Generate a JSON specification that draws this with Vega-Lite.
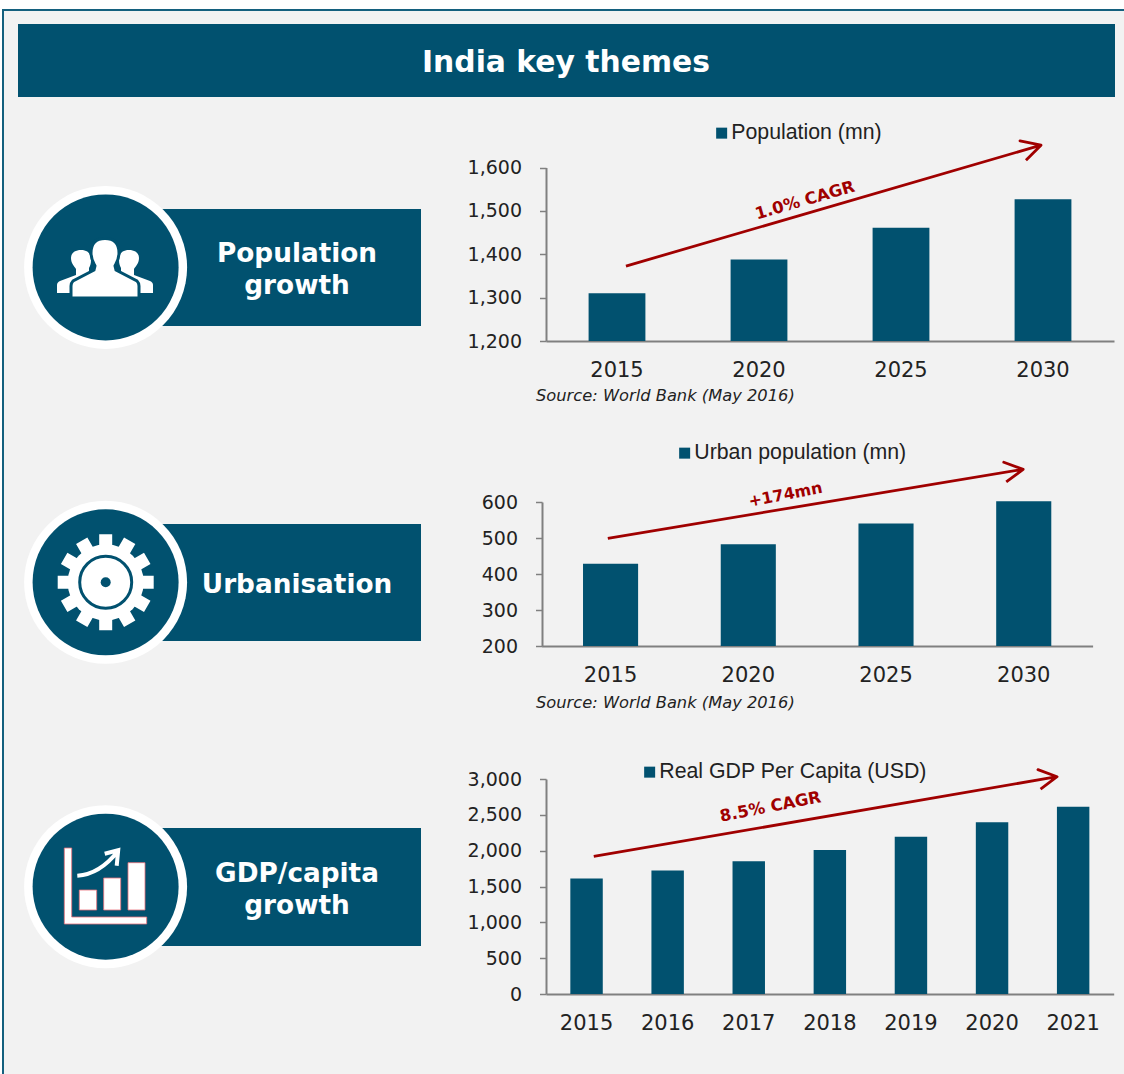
{
"$schema":"https://vega.github.io/schema/vega-lite/v6.json",
"padding":0,
"background":"#ffffff",
"bounds":"flush",
"spacing":0,
"resolve":{"scale":{"color":"independent"},"legend":{"color":"independent"}},
"config":{"view":{"stroke":null},"font":"DejaVu Sans",
 "axis":{"labelFont":"DejaVu Sans","labelColor":"#222222","domainColor":"#808080","domainWidth":2,"tickColor":"#808080","tickWidth":1.5,"grid":false,"title":null},
 "legend":{"orient":"none","title":null,"padding":0,"symbolType":"square","symbolSize":121,"symbolStrokeWidth":0,"labelFont":"Liberation Sans","labelFontSize":21.3,"labelColor":"#222222","labelOffset":-1,"labelLimit":400}},
"hconcat":[
{"width":541,"height":1074,
 "encoding":{
  "x":{"field":"x","type":"quantitative","axis":null,"scale":{"domain":[0,541],"range":[0,541],"nice":false,"zero":false}},
  "y":{"field":"y","type":"quantitative","axis":null,"scale":{"domain":[0,1074],"range":[0,1074],"nice":false,"zero":false}}
 },
 "layer":[
  {"data":{"values":[{"part":"panel","x":2,"x2":1124,"y":9,"y2":1074}]},"mark":{"type":"rect","fill":"#f2f2f2"},"encoding":{"x2":{"field":"x2"},"y2":{"field":"y2"}}},
  {"data":{"values":[{"part":"top edge","x":2,"x2":1124,"y":9,"y2":11},{"part":"left edge","x":2,"x2":4,"y":9,"y2":1074}]},"mark":{"type":"rect","fill":"#14607e"},"encoding":{"x2":{"field":"x2"},"y2":{"field":"y2"}}},
  {"data":{"values":[{"part":"header","x":18,"x2":1115,"y":24,"y2":97},{"part":"Population growth","x":150,"x2":421,"y":209,"y2":326},{"part":"Urbanisation","x":150,"x2":421,"y":524,"y2":641},{"part":"GDP/capita growth","x":150,"x2":421,"y":828,"y2":946}]},"mark":{"type":"rect","fill":"#01516f"},"encoding":{"x2":{"field":"x2"},"y2":{"field":"y2"}}},
  {"data":{"name":"discs","values":[{"theme":"Population growth","x":105.6,"y":267.4},{"theme":"Urbanisation","x":105.6,"y":582.3},{"theme":"GDP/capita growth","x":105.6,"y":886.7}]},"mark":{"type":"point","shape":"circle","filled":true,"fill":"#ffffff","stroke":null,"size":26569,"opacity":1}},
  {"data":{"name":"discs"},"mark":{"type":"point","shape":"circle","filled":true,"fill":"#01516f","stroke":null,"size":21316,"opacity":1}},
  {"data":{"values":[{"icon":"people","x":105,"y":268}]},"mark":{"type":"point","filled":true,"fill":"#ffffff","stroke":null,"opacity":1,"size":10000,"shape":"M -0.48 -0.36 C -0.34 -0.36 -0.28 -0.28 -0.28 -0.16 C -0.28 -0.08 -0.3 -0.04 -0.32 0 L -0.32 0.08 L -0.2 0.2 L -0.2 0.5 L -0.96 0.5 L -0.96 0.34 C -0.96 0.3 -0.94 0.28 -0.9 0.26 L -0.58 0.14 L -0.58 0.02 C -0.62 -0.04 -0.68 -0.1 -0.68 -0.2 C -0.68 -0.3 -0.6 -0.36 -0.48 -0.36 Z M 0.48 -0.36 C 0.34 -0.36 0.28 -0.28 0.28 -0.16 C 0.28 -0.08 0.3 -0.04 0.32 0 L 0.32 0.08 L 0.2 0.2 L 0.2 0.5 L 0.96 0.5 L 0.96 0.34 C 0.96 0.3 0.94 0.28 0.9 0.26 L 0.58 0.14 L 0.58 0.02 C 0.62 -0.04 0.68 -0.1 0.68 -0.2 C 0.68 -0.3 0.6 -0.36 0.48 -0.36 Z"}},
  {"data":{"values":[{"icon":"people centre","x":105,"y":268}]},"mark":{"type":"point","filled":true,"fill":"#ffffff","stroke":"#01516f","strokeWidth":3,"opacity":1,"size":10000,"shape":"M 0 -0.59 C 0.2 -0.59 0.28 -0.48 0.28 -0.3 C 0.28 -0.18 0.24 -0.12 0.2 -0.04 L 0.22 0.04 L 0.64 0.26 C 0.66 0.28 0.68 0.32 0.68 0.36 L 0.68 0.6 L -0.68 0.6 L -0.68 0.36 C -0.68 0.32 -0.66 0.28 -0.64 0.26 L -0.22 0.04 L -0.2 -0.04 C -0.24 -0.12 -0.28 -0.18 -0.28 -0.3 C -0.28 -0.48 -0.2 -0.59 0 -0.59 Z"}},
  {"data":{"values":[{"icon":"gear","x":105.7,"y":582.3}]},"mark":{"type":"point","filled":true,"fill":"#ffffff","stroke":null,"opacity":1,"size":10000,"shape":"M 0.96 0.13 L 0.96 -0.13 L -0.96 -0.13 L -0.96 0.13 Z M 0.766 0.593 L 0.896 0.367 L -0.766 -0.593 L -0.896 -0.367 Z M 0.367 0.896 L 0.593 0.766 L -0.367 -0.896 L -0.593 -0.766 Z M -0.13 0.96 L 0.13 0.96 L 0.13 -0.96 L -0.13 -0.96 Z M -0.593 0.766 L -0.367 0.896 L 0.593 -0.766 L 0.367 -0.896 Z M -0.896 0.367 L -0.766 0.593 L 0.896 -0.367 L 0.766 -0.593 Z"}},
  {"data":{"values":[{"icon":"gear body","x":105.7,"y":582.3}]},"mark":{"type":"point","shape":"circle","filled":true,"fill":"#ffffff","stroke":null,"opacity":1,"size":5776}},
  {"data":{"values":[{"icon":"gear ring","x":105.7,"y":582.3}]},"mark":{"type":"point","shape":"circle","filled":false,"stroke":"#01516f","strokeWidth":3,"opacity":1,"size":2704}},
  {"data":{"values":[{"icon":"gear hole","x":105.7,"y":582.3}]},"mark":{"type":"point","shape":"circle","filled":true,"fill":"#01516f","stroke":null,"opacity":1,"size":100}},
  {"data":{"values":[{"icon":"bars","x":105.7,"y":886.7}]},"mark":{"type":"point","filled":true,"fill":"#ffffff","stroke":"#e8707a","strokeWidth":0.8,"opacity":1,"size":10000,"shape":"M -0.828 -0.774 L -0.68 -0.774 L -0.68 0.606 L 0.82 0.606 L 0.82 0.746 L -0.828 0.746 Z M -0.528 0.066 L -0.18 0.066 L -0.18 0.466 L -0.528 0.466 Z M -0.04 -0.174 L 0.3 -0.174 L 0.3 0.466 L -0.04 0.466 Z M 0.446 -0.48 L 0.786 -0.48 L 0.786 0.466 L 0.446 0.466 Z"}},
  {"data":{"values":[{"icon":"bars arrow","x":105.7,"y":886.7}]},"mark":{"type":"point","filled":false,"stroke":"#ffffff","strokeWidth":4,"opacity":1,"size":10000,"shape":"M -0.568 -0.22 C -0.25 -0.24 0 -0.4 0.25 -0.72 M -0.02 -0.66 L 0.25 -0.73 L 0.22 -0.42"}},
  {"data":{"values":[{"label":"India key themes","x":566,"y":63}]},"mark":{"type":"text","font":"DejaVu Sans","fontWeight":"bold","fontSize":29.8,"fill":"#ffffff","align":"center","baseline":"middle"},"encoding":{"text":{"field":"label"}}},
  {"data":{"values":[{"label":"Population","x":297,"y":254},{"label":"growth","x":297,"y":286},{"label":"Urbanisation","x":297,"y":585},{"label":"GDP/capita","x":297,"y":874},{"label":"growth","x":297,"y":906}]},"mark":{"type":"text","font":"DejaVu Sans","fontWeight":"bold","fontSize":26.3,"fill":"#ffffff","align":"center","baseline":"middle"},"encoding":{"text":{"field":"label"}}},
  {"data":{"values":[{"label":"Source: World Bank (May 2016)","x":536,"y":395.5},{"label":"Source: World Bank (May 2016)","x":536,"y":702.5}]},"mark":{"type":"text","font":"DejaVu Sans","fontStyle":"italic","fontSize":16.3,"fill":"#222222","align":"left","baseline":"middle"},"encoding":{"text":{"field":"label"}}}
 ]},
{"vconcat":[
 {"width":583,"height":341,
  "layer":[
   {"data":{"values":[{"year":"2015","population":1310},{"year":"2020","population":1388},{"year":"2025","population":1461},{"year":"2030","population":1527}]},
    "mark":{"type":"bar"},
    "encoding":{
     "x":{"field":"year","type":"ordinal","axis":{"labelAngle":0,"ticks":false,"labelFontSize":21,"labelBaseline":"middle","labelPadding":29},"scale":{"range":[5,573],"paddingInner":0.6,"paddingOuter":0.3}},
     "y":{"field":"population","type":"quantitative","stack":null,"axis":{"values":[1200,1300,1400,1500,1600],"format":",.0f","offset":-5,"labelFontSize":19,"tickSize":6.5,"labelPadding":18},"scale":{"domain":[1200,1600],"range":[341,167.5],"nice":false,"zero":false}},
     "y2":{"datum":1200},
     "color":{"datum":"Population (mn)","type":"nominal","scale":{"range":["#01516f"]},"legend":{"legendX":170,"legendY":122.5}}}},
   {"data":{"values":[{"o":1,"ax":0.063,"ay":1372.7},{"o":2,"ax":2.986,"ay":1651.4},{"o":3,"ax":2.838,"ay":1661.4},{"o":4,"ax":2.986,"ay":1651.4},{"o":5,"ax":2.88,"ay":1616.8}]},
    "mark":{"type":"line","stroke":"#a00000","strokeWidth":2.8,"strokeJoin":"round"},
    "encoding":{"order":{"field":"o"},"x":{"field":"ax","type":"quantitative","axis":null,"scale":{"domain":[-0.5,3.5],"range":[5,573],"nice":false,"zero":false}},"y":{"field":"ay","type":"quantitative"}}},
   {"data":{"values":[{"label":"1.0% CAGR","ax":1.324,"ay":1524}]},
    "mark":{"type":"text","font":"DejaVu Sans","fontWeight":"bold","fontSize":16.5,"fill":"#a00000","angle":-16,"align":"center","baseline":"middle"},
    "encoding":{"text":{"field":"label"},"x":{"field":"ax","type":"quantitative","axis":null,"scale":{"domain":[-0.5,3.5],"range":[5,573],"nice":false,"zero":false}},"y":{"field":"ay","type":"quantitative"}}}
  ],
  "resolve":{"scale":{"x":"independent"},"axis":{"x":"independent"}}},
 {"width":583,"height":305,
  "layer":[
   {"data":{"values":[{"year":"2015","urban":428.6},{"year":"2020","urban":482.4},{"year":"2025","urban":540},{"year":"2030","urban":602}]},
    "mark":{"type":"bar"},
    "encoding":{
     "x":{"field":"year","type":"ordinal","axis":{"labelAngle":0,"ticks":false,"labelFontSize":21,"labelBaseline":"middle","labelPadding":29},"scale":{"range":[0.7,551.6],"paddingInner":0.6,"paddingOuter":0.3}},
     "y":{"field":"urban","type":"quantitative","stack":null,"axis":{"values":[200,300,400,500,600],"offset":-1,"labelFontSize":19,"tickSize":6.5,"labelPadding":18},"scale":{"domain":[200,600],"range":[305,161],"nice":false,"zero":false}},
     "y2":{"datum":200},
     "color":{"datum":"Urban population (mn)","type":"nominal","scale":{"range":["#01516f"]},"legend":{"legendX":133,"legendY":101.5}}}},
   {"data":{"values":[{"o":1,"ax":-0.02,"ay":499.2},{"o":2,"ax":2.996,"ay":690.9},{"o":3,"ax":2.855,"ay":710.3},{"o":4,"ax":2.996,"ay":690.9},{"o":5,"ax":2.873,"ay":655.6}]},
    "mark":{"type":"line","stroke":"#a00000","strokeWidth":2.8,"strokeJoin":"round"},
    "encoding":{"order":{"field":"o"},"x":{"field":"ax","type":"quantitative","axis":null,"scale":{"domain":[-0.5,3.5],"range":[0.7,551.6],"nice":false,"zero":false}},"y":{"field":"ay","type":"quantitative"}}},
   {"data":{"values":[{"label":"+174mn","ax":1.27,"ay":620}]},
    "mark":{"type":"text","font":"DejaVu Sans","fontWeight":"bold","fontSize":16,"fill":"#a00000","angle":-11,"align":"center","baseline":"middle"},
    "encoding":{"text":{"field":"label"},"x":{"field":"ax","type":"quantitative","axis":null,"scale":{"domain":[-0.5,3.5],"range":[0.7,551.6],"nice":false,"zero":false}},"y":{"field":"ay","type":"quantitative"}}}
  ],
  "resolve":{"scale":{"x":"independent"},"axis":{"x":"independent"}}},
 {"width":583,"height":348,
  "layer":[
   {"data":{"values":[{"year":"2015","gdp":1612},{"year":"2016","gdp":1724},{"year":"2017","gdp":1854},{"year":"2018","gdp":2008},{"year":"2019","gdp":2194},{"year":"2020","gdp":2395},{"year":"2021","gdp":2613}]},
    "mark":{"type":"bar"},
    "encoding":{
     "x":{"field":"year","type":"ordinal","axis":{"labelAngle":0,"ticks":false,"labelFontSize":21,"labelBaseline":"middle","labelPadding":29},"scale":{"range":[5,572.7],"paddingInner":0.6,"paddingOuter":0.3}},
     "y":{"field":"gdp","type":"quantitative","stack":null,"axis":{"values":[0,500,1000,1500,2000,2500,3000],"format":",.0f","offset":-5,"labelFontSize":19,"tickSize":6.5,"labelPadding":18},"scale":{"domain":[0,3000],"range":[348,133],"nice":false,"zero":false}},
     "y2":{"datum":0},
     "color":{"datum":"Real GDP Per Capita (USD)","type":"nominal","scale":{"range":["#01516f"]},"legend":{"legendX":98,"legendY":115.5}}}},
   {"data":{"values":[{"o":1,"ax":0.089,"ay":1919},{"o":2,"ax":5.802,"ay":3032},{"o":3,"ax":5.566,"ay":3130},{"o":4,"ax":5.802,"ay":3032},{"o":5,"ax":5.598,"ay":2859}]},
    "mark":{"type":"line","stroke":"#a00000","strokeWidth":2.8,"strokeJoin":"round"},
    "encoding":{"order":{"field":"o"},"x":{"field":"ax","type":"quantitative","axis":null,"scale":{"domain":[-0.5,6.5],"range":[5,572.7],"nice":false,"zero":false}},"y":{"field":"ay","type":"quantitative"}}},
   {"data":{"values":[{"label":"8.5% CAGR","ax":2.268,"ay":2610}]},
    "mark":{"type":"text","font":"DejaVu Sans","fontWeight":"bold","fontSize":16.5,"fill":"#a00000","angle":-11,"align":"center","baseline":"middle"},
    "encoding":{"text":{"field":"label"},"x":{"field":"ax","type":"quantitative","axis":null,"scale":{"domain":[-0.5,6.5],"range":[5,572.7],"nice":false,"zero":false}},"y":{"field":"ay","type":"quantitative"}}}
  ],
  "resolve":{"scale":{"x":"independent"},"axis":{"x":"independent"}}}
 ],"spacing":0,"bounds":"flush","resolve":{"scale":{"color":"independent"},"legend":{"color":"independent"}}}
]}
